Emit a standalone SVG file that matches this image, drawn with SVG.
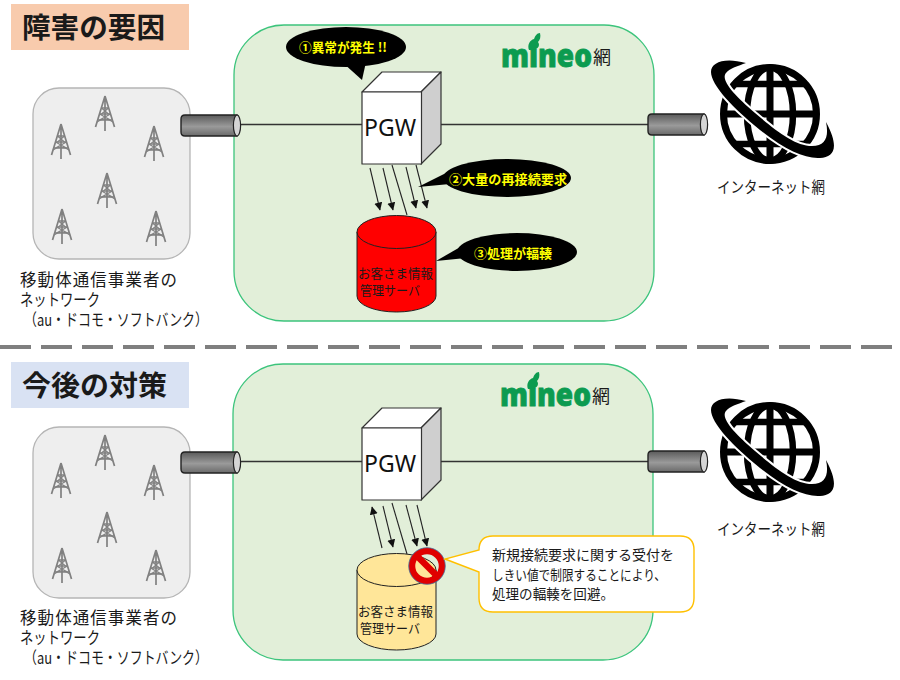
<svg xmlns="http://www.w3.org/2000/svg" xmlns:xlink="http://www.w3.org/1999/xlink" width="900" height="680" viewBox="0 0 900 680">
<style>
text{font-family:"Noto Sans CJK JP","Noto Sans",sans-serif;fill:#1a1a1a}
.net{fill:#e2efd9;stroke:#3cc47c;stroke-width:1.3}
.cloud{fill:#eeeeee;stroke:#b5b5b5;stroke-width:1.3}
.link{stroke:#333;stroke-width:1.3;fill:none}
.arr{stroke:#222;stroke-width:1.1;fill:none}
.head{marker-end:url(#tip)}
.say{fill:#000}
.say-t{fill:#ffff00;font-weight:700;font-size:13px}
.lbl{font-size:16.500px}
.db{font-size:13px}
.note{font-size:14px}
.title{font-size:28px;font-weight:700}
.logo{font-family:"Open Sans","Noto Sans",sans-serif;font-weight:800;font-size:31px;fill:#0c9b50;stroke:#0c9b50;stroke-width:.8}
.cube{stroke:#333;stroke-width:1.2;stroke-linejoin:round}
.pgw{font-family:"Noto Sans",sans-serif;font-size:23px;fill:#111}
</style>
<defs>
<marker id="tip" markerWidth="9" markerHeight="9" refX="7.5" refY="4" orient="auto" markerUnits="userSpaceOnUse"><path d="M0 0L8 4L0 8Z" fill="#111"/></marker>
<linearGradient id="pipeG" x1="0" y1="0" x2="0" y2="1"><stop offset="0" stop-color="#5a5a5a"/><stop offset=".55" stop-color="#9a9a9a"/><stop offset="1" stop-color="#6a6a6a"/></linearGradient>
<g id="tower" fill="none" stroke="#808080" stroke-width="1.7">
<path d="M0-17L-9.500 14M0-17L9.500 14M0-17V18"/>
<path d="M-3.500-5H3.500M-5.500 1H5.500M-7.500 7H7.500" stroke-width="1.500"/>
<path d="M-8 9Q0 3 8 9M-5.500 1L5.500 7M5.500 1L-5.500 7M-3.500-5L3.500 1M3.500-5L-3.500 1" stroke-width="1.100"/>
</g>
<g id="pipe">
<path d="M4 0H56V21H4Q0 21 0 17V4Q0 0 4 0Z" fill="url(#pipeG)" stroke="#222" stroke-width="1.400"/>
<ellipse cx="56" cy="10.500" rx="3.600" ry="10.500" fill="#d5d5d5" stroke="#222" stroke-width="1.200"/>
</g>
<g id="cubeShape">
<path class="cube" d="M362 92L382 72H441L421 92Z" fill="#fff"/>
<path class="cube" d="M421 92L441 72V144L421 164Z" fill="#cfcfcf"/>
<rect class="cube" x="362" y="92" width="59.500" height="72" fill="#fff"/>
<text class="pgw" x="364" y="136">PGW</text>
</g>
<g id="globe">
<circle cx="770" cy="114" r="46.500" fill="none" stroke="#000" stroke-width="7"/>
<ellipse cx="770" cy="114" rx="23" ry="46.500" fill="none" stroke="#000" stroke-width="6.500"/>
<path d="M770 66V162M724 114H816" stroke="#000" stroke-width="7" fill="none"/>
<path d="M733 84H807M733 144H807" stroke="#000" stroke-width="6.500" fill="none"/>
<path d="M746 63C725 57 711 62 711 72C711 85 733 108 760 130C785 150 805 159 820 158C834 157 840 148 826 122C829 136 826 146 812 146C795 146 775 130 755 113C735 96 720 80 726 73C730 68 738 66 746 63Z" fill="#000" stroke="#fff" stroke-width="4" paint-order="stroke"/>
</g>
<g id="logo">
<text class="logo" x="501" y="67" textLength="91" lengthAdjust="spacingAndGlyphs">mineo</text>
<path d="M529 50C527 45 530 40 534 39C535 36 537 33 540 33C541 37 540 40 538 42C541 46 537 51 529 50Z" fill="#0c9b50"/>
<text x="593" y="64" font-size="18" fill="#333">網</text>
</g>
</defs>

<!-- section headings -->
<g id="heading-top"><rect x="11" y="4" width="178" height="46" fill="#f8cbad"/><text class="title" x="22" y="38" textLength="143" lengthAdjust="spacingAndGlyphs">障害の要因</text></g>
<g id="heading-bottom"><rect x="11" y="362" width="178" height="46" fill="#d9e2f3"/><text class="title" x="22" y="396" textLength="145" lengthAdjust="spacingAndGlyphs">今後の対策</text></g>
<path id="divider" d="M0 347H900" stroke="#7f7f7f" stroke-width="4" stroke-dasharray="31 10"/>

<!-- upper scenario -->
<g id="net-top"><rect class="net" x="234" y="25" width="420" height="296" rx="50"/><use href="#logo"/></g>
<g id="carrier-top">
<rect class="cloud" x="33" y="88" width="157" height="171" rx="26"/>
<use href="#tower" x="105" y="113"/><use href="#tower" x="61" y="141"/><use href="#tower" x="154" y="143"/><use href="#tower" x="107" y="190"/><use href="#tower" x="62" y="226"/><use href="#tower" x="156" y="228"/>
<text class="lbl" x="20" y="286" textLength="157">移動体通信事業者の</text>
<text class="lbl" x="20" y="306" textLength="80" lengthAdjust="spacingAndGlyphs">ネットワーク</text>
<text class="lbl" x="24" y="326" textLength="184" lengthAdjust="spacingAndGlyphs">（au・ドコモ・ソフトバンク）</text>
</g>
<g id="connectors-top">
<path class="link" d="M240 124.500H362M441 124.500H648"/>
<use href="#pipe" x="181" y="115"/><use href="#pipe" x="648" y="114"/>
<path class="arr head" d="M370 168L380 210"/><path class="arr head" d="M383 168L393 210"/>
<path class="arr" d="M392 165L407 215"/>
<path class="arr head" d="M406 167L416 208"/><path class="arr head" d="M416 165L427 208"/>
</g>
<g id="pgw-top"><use href="#cubeShape"/></g>
<g id="db-top">
<path d="M357 232V296A39.500 16 0 0 0 436 296V232Z" fill="#ff0000" stroke="#222" stroke-width="1"/>
<ellipse cx="396.500" cy="232" rx="39.500" ry="16.500" fill="#ff0000" stroke="#222" stroke-width="1"/>
<text class="db" x="358" y="278" textLength="75" lengthAdjust="spacingAndGlyphs">お客さま情報</text>
<text class="db" x="360" y="295" textLength="60" lengthAdjust="spacingAndGlyphs">管理サーバ</text>
</g>
<g id="internet-top"><use href="#globe"/><text font-size="15.500" x="717" y="193" textLength="108" lengthAdjust="spacingAndGlyphs">インターネット網</text></g>
<g id="say-fault"><ellipse class="say" cx="346" cy="47" rx="60" ry="20"/><path class="say" d="M342 62L362 80L366 62Z"/><text class="say-t" x="299" y="52" textLength="88" lengthAdjust="spacingAndGlyphs">①異常が発生 !!</text></g>
<g id="say-retry"><ellipse class="say" cx="507" cy="178" rx="64" ry="19"/><path class="say" d="M448 172L418 187L450 184Z"/><text class="say-t" x="449" y="184" textLength="118" lengthAdjust="spacingAndGlyphs">②大量の再接続要求</text></g>
<g id="say-busy"><ellipse class="say" cx="517" cy="252" rx="60" ry="19"/><path class="say" d="M462 246L436 261L466 258Z"/><text class="say-t" x="474" y="258" textLength="78" lengthAdjust="spacingAndGlyphs">③処理が輻輳</text></g>

<!-- lower scenario -->
<g id="net-bottom"><rect class="net" x="233" y="364" width="420" height="296" rx="50"/><use href="#logo" x="-1" y="339"/></g>
<g id="carrier-bottom">
<rect class="cloud" x="33" y="427" width="157" height="171" rx="26"/>
<use href="#tower" x="105" y="452"/><use href="#tower" x="61" y="480"/><use href="#tower" x="154" y="482"/><use href="#tower" x="107" y="529"/><use href="#tower" x="62" y="565"/><use href="#tower" x="156" y="567"/>
<text class="lbl" x="20" y="624" textLength="157">移動体通信事業者の</text>
<text class="lbl" x="20" y="644" textLength="80" lengthAdjust="spacingAndGlyphs">ネットワーク</text>
<text class="lbl" x="24" y="664" textLength="184" lengthAdjust="spacingAndGlyphs">（au・ドコモ・ソフトバンク）</text>
</g>
<g id="connectors-bottom">
<path class="link" d="M240 461.500H362M441 461.500H648"/>
<use href="#pipe" x="181" y="452"/><use href="#pipe" x="648" y="451"/>
<path class="arr head" d="M382 548L372 507"/><path class="arr head" d="M383 506L393 547"/>
<path class="arr" d="M392 503L407 554"/>
<path class="arr head" d="M406 505L417 546"/><path class="arr head" d="M417 505L427 546"/>
</g>
<g id="pgw-bottom"><use href="#cubeShape" y="336"/></g>
<g id="db-bottom">
<path d="M357 570V634A39.500 16 0 0 0 436 634V570Z" fill="#ffe699" stroke="#222" stroke-width="1"/>
<ellipse cx="396.500" cy="570" rx="39.500" ry="16.500" fill="#ffe699" stroke="#222" stroke-width="1"/>
<text class="db" x="358" y="616" textLength="75" lengthAdjust="spacingAndGlyphs">お客さま情報</text>
<text class="db" x="360" y="633" textLength="60" lengthAdjust="spacingAndGlyphs">管理サーバ</text>
</g>
<g id="internet-bottom"><use href="#globe" y="338"/><text font-size="15.500" x="717" y="535" textLength="108" lengthAdjust="spacingAndGlyphs">インターネット網</text></g>
<g id="block-sign">
<circle cx="427" cy="566" r="15" fill="none" stroke="#e00000" stroke-width="6.500"/>
<path d="M416 555L438 577" stroke="#e00000" stroke-width="6.500"/>
<circle cx="427" cy="566" r="18.300" fill="none" stroke="#41719c" stroke-width=".8"/>
</g>
<g id="note">
<path d="M493 536H680Q694 536 694 550V598Q694 612 680 612H493Q479 612 479 598V572L445 559L479 550Q479 536 493 536Z" fill="#fff" stroke="#ffc000" stroke-width="1.400"/>
<text class="note" x="492" y="560" textLength="182" lengthAdjust="spacingAndGlyphs">新規接続要求に関する受付を</text>
<text class="note" x="492" y="580" textLength="174" lengthAdjust="spacingAndGlyphs">しきい値で制限することにより、</text>
<text class="note" x="492" y="599" textLength="122" lengthAdjust="spacingAndGlyphs">処理の輻輳を回避。</text>
</g>
</svg>
